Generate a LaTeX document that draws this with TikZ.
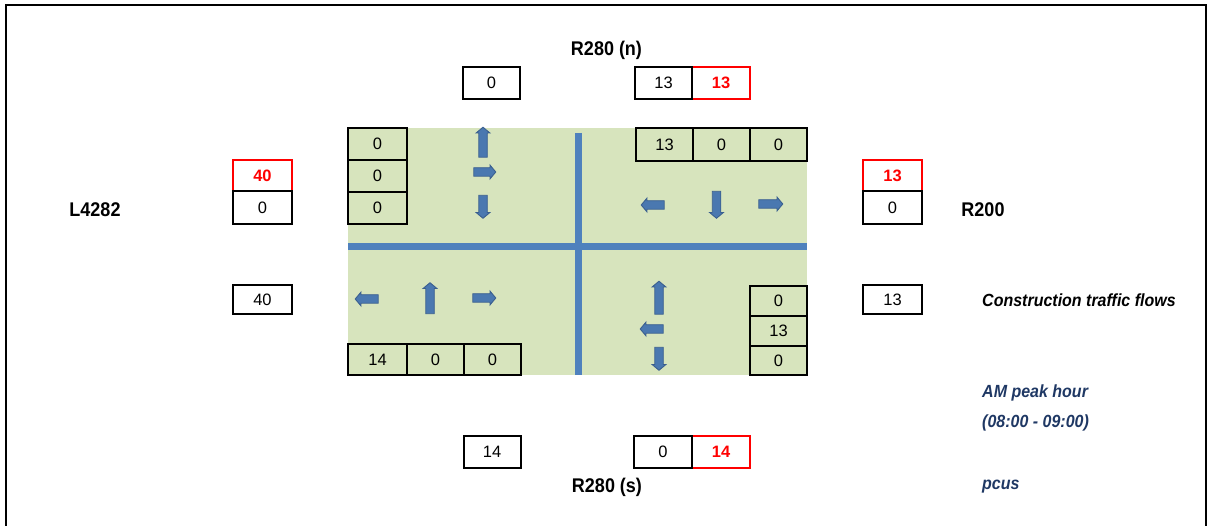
\documentclass[tikz,border=0pt]{standalone}
\usepackage{fontspec}
\setmainfont{Liberation Sans}
\usetikzlibrary{shapes.arrows}
\definecolor{zone}{HTML}{D7E4BD}
\definecolor{road}{HTML}{4F81BD}
\definecolor{arrfill}{HTML}{4A78B0}
\definecolor{arrline}{HTML}{3A5F8F}
\definecolor{navy}{HTML}{1F3864}
\definecolor{hot}{HTML}{FF0000}
\newcommand{\tall}[1]{\scalebox{1}[1.1]{#1}}
\tikzset{
  cell/.style={draw=black, line width=2pt, minimum width=58pt, minimum height=32pt, inner sep=0pt, font=\fontsize{16.5}{16.5}\selectfont},
  hotcell/.style={cell, draw=hot, text=hot, font=\fontsize{16.5}{16.5}\selectfont\bfseries},
  lbl/.style={font=\fontsize{18}{18}\selectfont\bfseries, inner sep=0pt},
  legend/.style={font=\fontsize{16}{16}\selectfont\bfseries\itshape, inner sep=0pt, anchor=west},
  flow/.style={single arrow, draw=arrline, fill=arrfill, line width=0.9pt, minimum width=13pt, single arrow head extend=2.6pt, single arrow tip angle=100, inner sep=3.8pt},
  roadline/.style={draw=road, line width=7pt}
}
\begin{document}
\begin{tikzpicture}[x=1pt,y=-1pt]
\useasboundingbox (0,0) rectangle (1208,526);
% frame
\draw[line width=2pt] (6,526) -- (6,5) -- (1206,5) -- (1206,526);
% junction area
\fill[zone] (348,128) rectangle (807,375);
\coordinate (vtop) at (578.5,133);
\coordinate (vbot) at (578.5,375);
\coordinate (hl) at (348,247);
\coordinate (hr) at (807,247);
\draw[roadline] (hl) -- (hr);
\draw[roadline] (vtop) -- (vbot);
% turning arrows, top-left
\node[flow, minimum height=30pt, rotate=90] (a1) at (483,144) {};
\node[flow, minimum height=22pt] (a2) at (483,172) {};
\node[flow, minimum height=23pt, rotate=-90] (a3) at (483,205) {};
% top-right
\node[flow, minimum height=23pt, rotate=180] (a4) at (654.5,205) {};
\node[flow, minimum height=27pt, rotate=-90] (a5) at (716.5,203) {};
\node[flow, minimum height=24pt] (a6) at (769,204) {};
% bottom-left
\node[flow, minimum height=23pt, rotate=180] (a7) at (368.5,299) {};
\node[flow, minimum height=31pt, rotate=90] (a8) at (430,300) {};
\node[flow, minimum height=23pt] (a9) at (482.5,298) {};
% bottom-right
\node[flow, minimum height=33pt, rotate=90] (a10) at (659,299.5) {};
\node[flow, minimum height=23pt, rotate=180] (a11) at (653.5,329) {};
\node[flow, minimum height=23pt, rotate=-90] (a12) at (659,357) {};
% red cells first
\node[hotcell, minimum width=58pt] (tn2) at (721,83) {13};
\node[hotcell, minimum width=58pt] (bs2) at (721,452) {14};
\node[hotcell, minimum width=59pt, minimum height=31pt] (lw1) at (262.5,175.5) {40};
\node[hotcell, minimum width=59pt, minimum height=31pt] (re1) at (892.5,175.5) {13};
% inner cells
\node[cell, minimum width=59pt] (q1a) at (377.5,144) {0};
\node[cell, minimum width=59pt] (q1b) at (377.5,176) {0};
\node[cell, minimum width=59pt] (q1c) at (377.5,208) {0};
\node[cell, minimum width=57pt, minimum height=33pt] (q2a) at (664.5,144.5) {13};
\node[cell, minimum width=57pt, minimum height=33pt] (q2b) at (721.5,144.5) {0};
\node[cell, minimum width=57pt, minimum height=33pt] (q2c) at (778.5,144.5) {0};
\node[cell, minimum width=59pt, minimum height=31pt] (q3a) at (377.5,359.5) {14};
\node[cell, minimum width=57pt, minimum height=31pt] (q3b) at (435.5,359.5) {0};
\node[cell, minimum width=57pt, minimum height=31pt] (q3c) at (492.5,359.5) {0};
\node[cell, minimum width=57pt, minimum height=30pt] (q4a) at (778.5,301) {0};
\node[cell, minimum width=57pt, minimum height=30pt] (q4b) at (778.5,331) {13};
\node[cell, minimum width=57pt, minimum height=29pt] (q4c) at (778.5,360.5) {0};
% outer cells
\node[cell, minimum width=57pt] (tn0) at (491.5,83) {0};
\node[cell, minimum width=57pt] (tn1) at (663.5,83) {13};
\node[cell, minimum width=57pt] (bs0) at (492,452) {14};
\node[cell, minimum width=58pt] (bs1) at (663,452) {0};
\node[cell, minimum width=59pt, minimum height=33pt] (lw0) at (262.5,207.5) {0};
\node[cell, minimum width=59pt, minimum height=29pt] (lw2) at (262.5,299.5) {40};
\node[cell, minimum width=59pt, minimum height=33pt] (re0) at (892.5,207.5) {0};
\node[cell, minimum width=59pt, minimum height=29pt] (re2) at (892.5,299.5) {13};
% road labels
\node[lbl] (rn) at (606.5,50) {\tall{R280 (n)}};
\node[lbl] (rs) at (607,487) {\tall{R280 (s)}};
\node[lbl] (lw) at (95,210) {\tall{L4282}};
\node[lbl] (re) at (983,210) {\tall{R200}};
% legend
\node[legend] (ctf) at (982,300) {\tall{Construction traffic flows}};
\node[legend, text=navy] (am) at (982,393) {\tall{AM peak hour}};
\node[legend, text=navy] (tm) at (982,423) {\tall{(08:00 - 09:00)}};
\node[legend, text=navy] (pc) at (982,487) {\tall{pcus}};
\end{tikzpicture}
\end{document}
